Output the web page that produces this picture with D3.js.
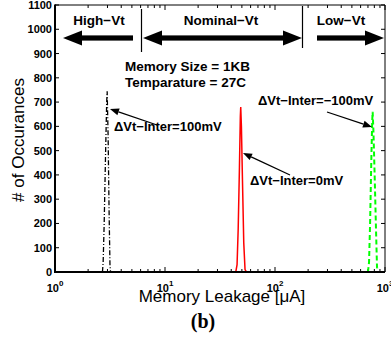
<!DOCTYPE html>
<html><head><meta charset="utf-8">
<script src="https://cdn.jsdelivr.net/npm/d3@7"></script>
<style>body{margin:0;background:#fff}svg{display:block}</style>
</head><body>
<svg id="c" width="391" height="345"></svg>
<script>
// ---- data ----
const yTickValues = [0,100,200,300,400,500,600,700,800,900,1000,1100];
const xDecades = [1,10,100,1000];
const xDecadeExps = ["0","1","2","3"];
const blackX = [2.70, 2.74, 2.80, 2.88, 2.95, 2.98, 3.04, 3.10, 3.16, 3.20];
const blackY = [0, 40, 200, 480, 700, 745, 560, 260, 30, 0];
const redX = [44.0, 45.2, 46.3, 47.5, 48.4, 48.8, 49.5, 50.6, 52.0, 53.4, 55];
const redY = [0, 30, 180, 430, 640, 680, 600, 380, 120, 10, 0];
const greenX = [700, 716, 732, 750, 765, 772, 785, 805, 828, 846, 860];
const greenY = [0, 40, 200, 450, 620, 660, 580, 400, 180, 20, 0];

const svg = d3.select("#c");
const L = 55, R = 385, T = 5, B = 272;
const x = d3.scaleLog().domain([1,1000]).range([L,R]);
const y = d3.scaleLinear().domain([0,1100]).range([B,T]);
const sans = "'Liberation Sans', Arial, Helvetica, sans-serif";

// clip
svg.append("defs").append("clipPath").attr("id","clip")
  .append("rect").attr("x",L).attr("y",T).attr("width",R-L).attr("height",B-T);

// minor & major ticks on x (bottom and top)
const minorX = [];
for (const d of [1,10,100]) for (let k=2;k<=9;k++) minorX.push(d*k);
const tg = svg.append("g").attr("stroke","#000").attr("stroke-width",1);
minorX.forEach(v=>{
  tg.append("line").attr("x1",x(v)).attr("x2",x(v)).attr("y1",B).attr("y2",B-3);
  tg.append("line").attr("x1",x(v)).attr("x2",x(v)).attr("y1",T).attr("y2",T+3);
});
xDecades.forEach(v=>{
  tg.append("line").attr("x1",x(v)).attr("x2",x(v)).attr("y1",B).attr("y2",B-5);
  tg.append("line").attr("x1",x(v)).attr("x2",x(v)).attr("y1",T).attr("y2",T+5);
});
yTickValues.forEach(v=>{
  tg.append("line").attr("x1",L).attr("x2",L+4).attr("y1",y(v)).attr("y2",y(v));
  tg.append("line").attr("x1",R).attr("x2",R-4).attr("y1",y(v)).attr("y2",y(v));
});

// y tick labels
svg.append("g").selectAll("text").data(yTickValues).join("text")
  .attr("x",L-3).attr("y",d=>y(d)+4).attr("text-anchor","end")
  .attr("font-family",sans).attr("font-weight","bold").attr("font-size",11)
  .text(d=>d);

// x tick labels
const xl = svg.append("g").selectAll("text").data(xDecades).join("text")
  .attr("x",d=>x(d)).attr("y",292).attr("text-anchor","middle")
  .attr("font-family",sans).attr("font-weight","bold").attr("font-size",11);
xl.append("tspan").text("10");
xl.append("tspan").attr("dy",-6).attr("font-size",8).text((d,i)=>xDecadeExps[i]);

// curves
const line = d3.line().x(d=>x(d[0])).y(d=>y(d[1]));
const cg = svg.append("g").attr("clip-path","url(#clip)").attr("fill","none");
cg.append("path").datum(blackX.map((v,i)=>[v,blackY[i]])).attr("d",line)
  .attr("stroke","#000").attr("stroke-width",1.3).attr("stroke-dasharray","5,2,1,2");
cg.append("path").datum(redX.map((v,i)=>[v,redY[i]])).attr("d",line)
  .attr("stroke","#ff0000").attr("stroke-width",1.5);
cg.append("path").datum(greenX.map((v,i)=>[v,greenY[i]])).attr("d",line)
  .attr("stroke","#00ff00").attr("stroke-width",2).attr("stroke-dasharray","5,3");

// box
svg.append("line").attr("x1",L).attr("x2",R).attr("y1",T).attr("y2",T).attr("stroke","#000").attr("stroke-width",1);
svg.append("line").attr("x1",R).attr("x2",R).attr("y1",T).attr("y2",B).attr("stroke","#000").attr("stroke-width",1);
svg.append("line").attr("x1",L).attr("x2",L).attr("y1",T-0.5).attr("y2",B+1).attr("stroke","#000").attr("stroke-width",2);
svg.append("line").attr("x1",L-1).attr("x2",R).attr("y1",B).attr("y2",B).attr("stroke","#000").attr("stroke-width",2.2);

// region arrows
const ann = svg.append("g");
function thickArrow(x0,x1,yc,headL,headR){
  // shaft
  const sh=2.6, hh=7.5, hl=19;
  let a = headL ? x0+hl : x0, b = headR ? x1-hl : x1;
  ann.append("rect").attr("x",a).attr("y",yc-sh).attr("width",b-a).attr("height",2*sh).attr("fill","#000");
  if(headL) ann.append("path").attr("d",`M${x0},${yc} L${x0+hl},${yc-hh} L${x0+hl},${yc+hh} Z`).attr("fill","#000");
  if(headR) ann.append("path").attr("d",`M${x1},${yc} L${x1-hl},${yc-hh} L${x1-hl},${yc+hh} Z`).attr("fill","#000");
}
thickArrow(63,133,38,true,false);
thickArrow(143,302,38,true,true);
thickArrow(317,384,38,false,true);
ann.append("line").attr("x1",141.5).attr("x2",141.5).attr("y1",9).attr("y2",52).attr("stroke","#000").attr("stroke-width",1.2);
ann.append("line").attr("x1",302.5).attr("x2",302.5).attr("y1",6).attr("y2",48).attr("stroke","#000").attr("stroke-width",1.2);

function txt(s,xx,yy,anchor,size){
  return ann.append("text").attr("x",xx).attr("y",yy).attr("text-anchor",anchor||"start")
    .attr("font-family",sans).attr("font-weight","bold").attr("font-size",size||13.5).text(s);
}
txt("High\u2212Vt",99,25,"middle");
txt("Nominal\u2212Vt",221,25,"middle");
txt("Low\u2212Vt",341,25,"middle");
txt("Memory Size = 1KB",125,71,"start");
txt("Temparature = 27C",125,87,"start");
txt("\u0394Vt\u2212Inter=100mV",114,131,"start",13);
txt("\u0394Vt\u2212Inter=0mV",250,185,"start",13);
txt("\u0394Vt\u2212Inter=\u2212100mV",258,105,"start",13);

function thinArrow(x0,y0,x1,y1){
  const ang=Math.atan2(y1-y0,x1-x0), hl=9, hw=3.5;
  const bx=x1-hl*Math.cos(ang), by=y1-hl*Math.sin(ang);
  ann.append("line").attr("x1",x0).attr("y1",y0).attr("x2",bx).attr("y2",by).attr("stroke","#000").attr("stroke-width",1.3);
  const px=-Math.sin(ang)*hw, py=Math.cos(ang)*hw;
  ann.append("path").attr("d",`M${x1},${y1} L${bx+px},${by+py} L${bx-px},${by-py} Z`).attr("fill","#000");
}
thinArrow(157,125,110,109);
thinArrow(290,175,243,153);
thinArrow(327,112,372,127);

// axis titles
svg.append("text").attr("transform","translate(24,140) rotate(-90)").attr("text-anchor","middle")
  .attr("font-family",sans).attr("font-size",17).text("# of Occurances");
svg.append("text").attr("x",222).attr("y",302).attr("text-anchor","middle")
  .attr("font-family",sans).attr("font-size",17).text("Memory Leakage [\u03bcA]");
svg.append("text").attr("x",203).attr("y",328).attr("text-anchor","middle")
  .attr("font-family","'Liberation Serif', 'Times New Roman', serif").attr("font-weight","bold").attr("font-size",20).text("(b)");
</script>
</body></html>
